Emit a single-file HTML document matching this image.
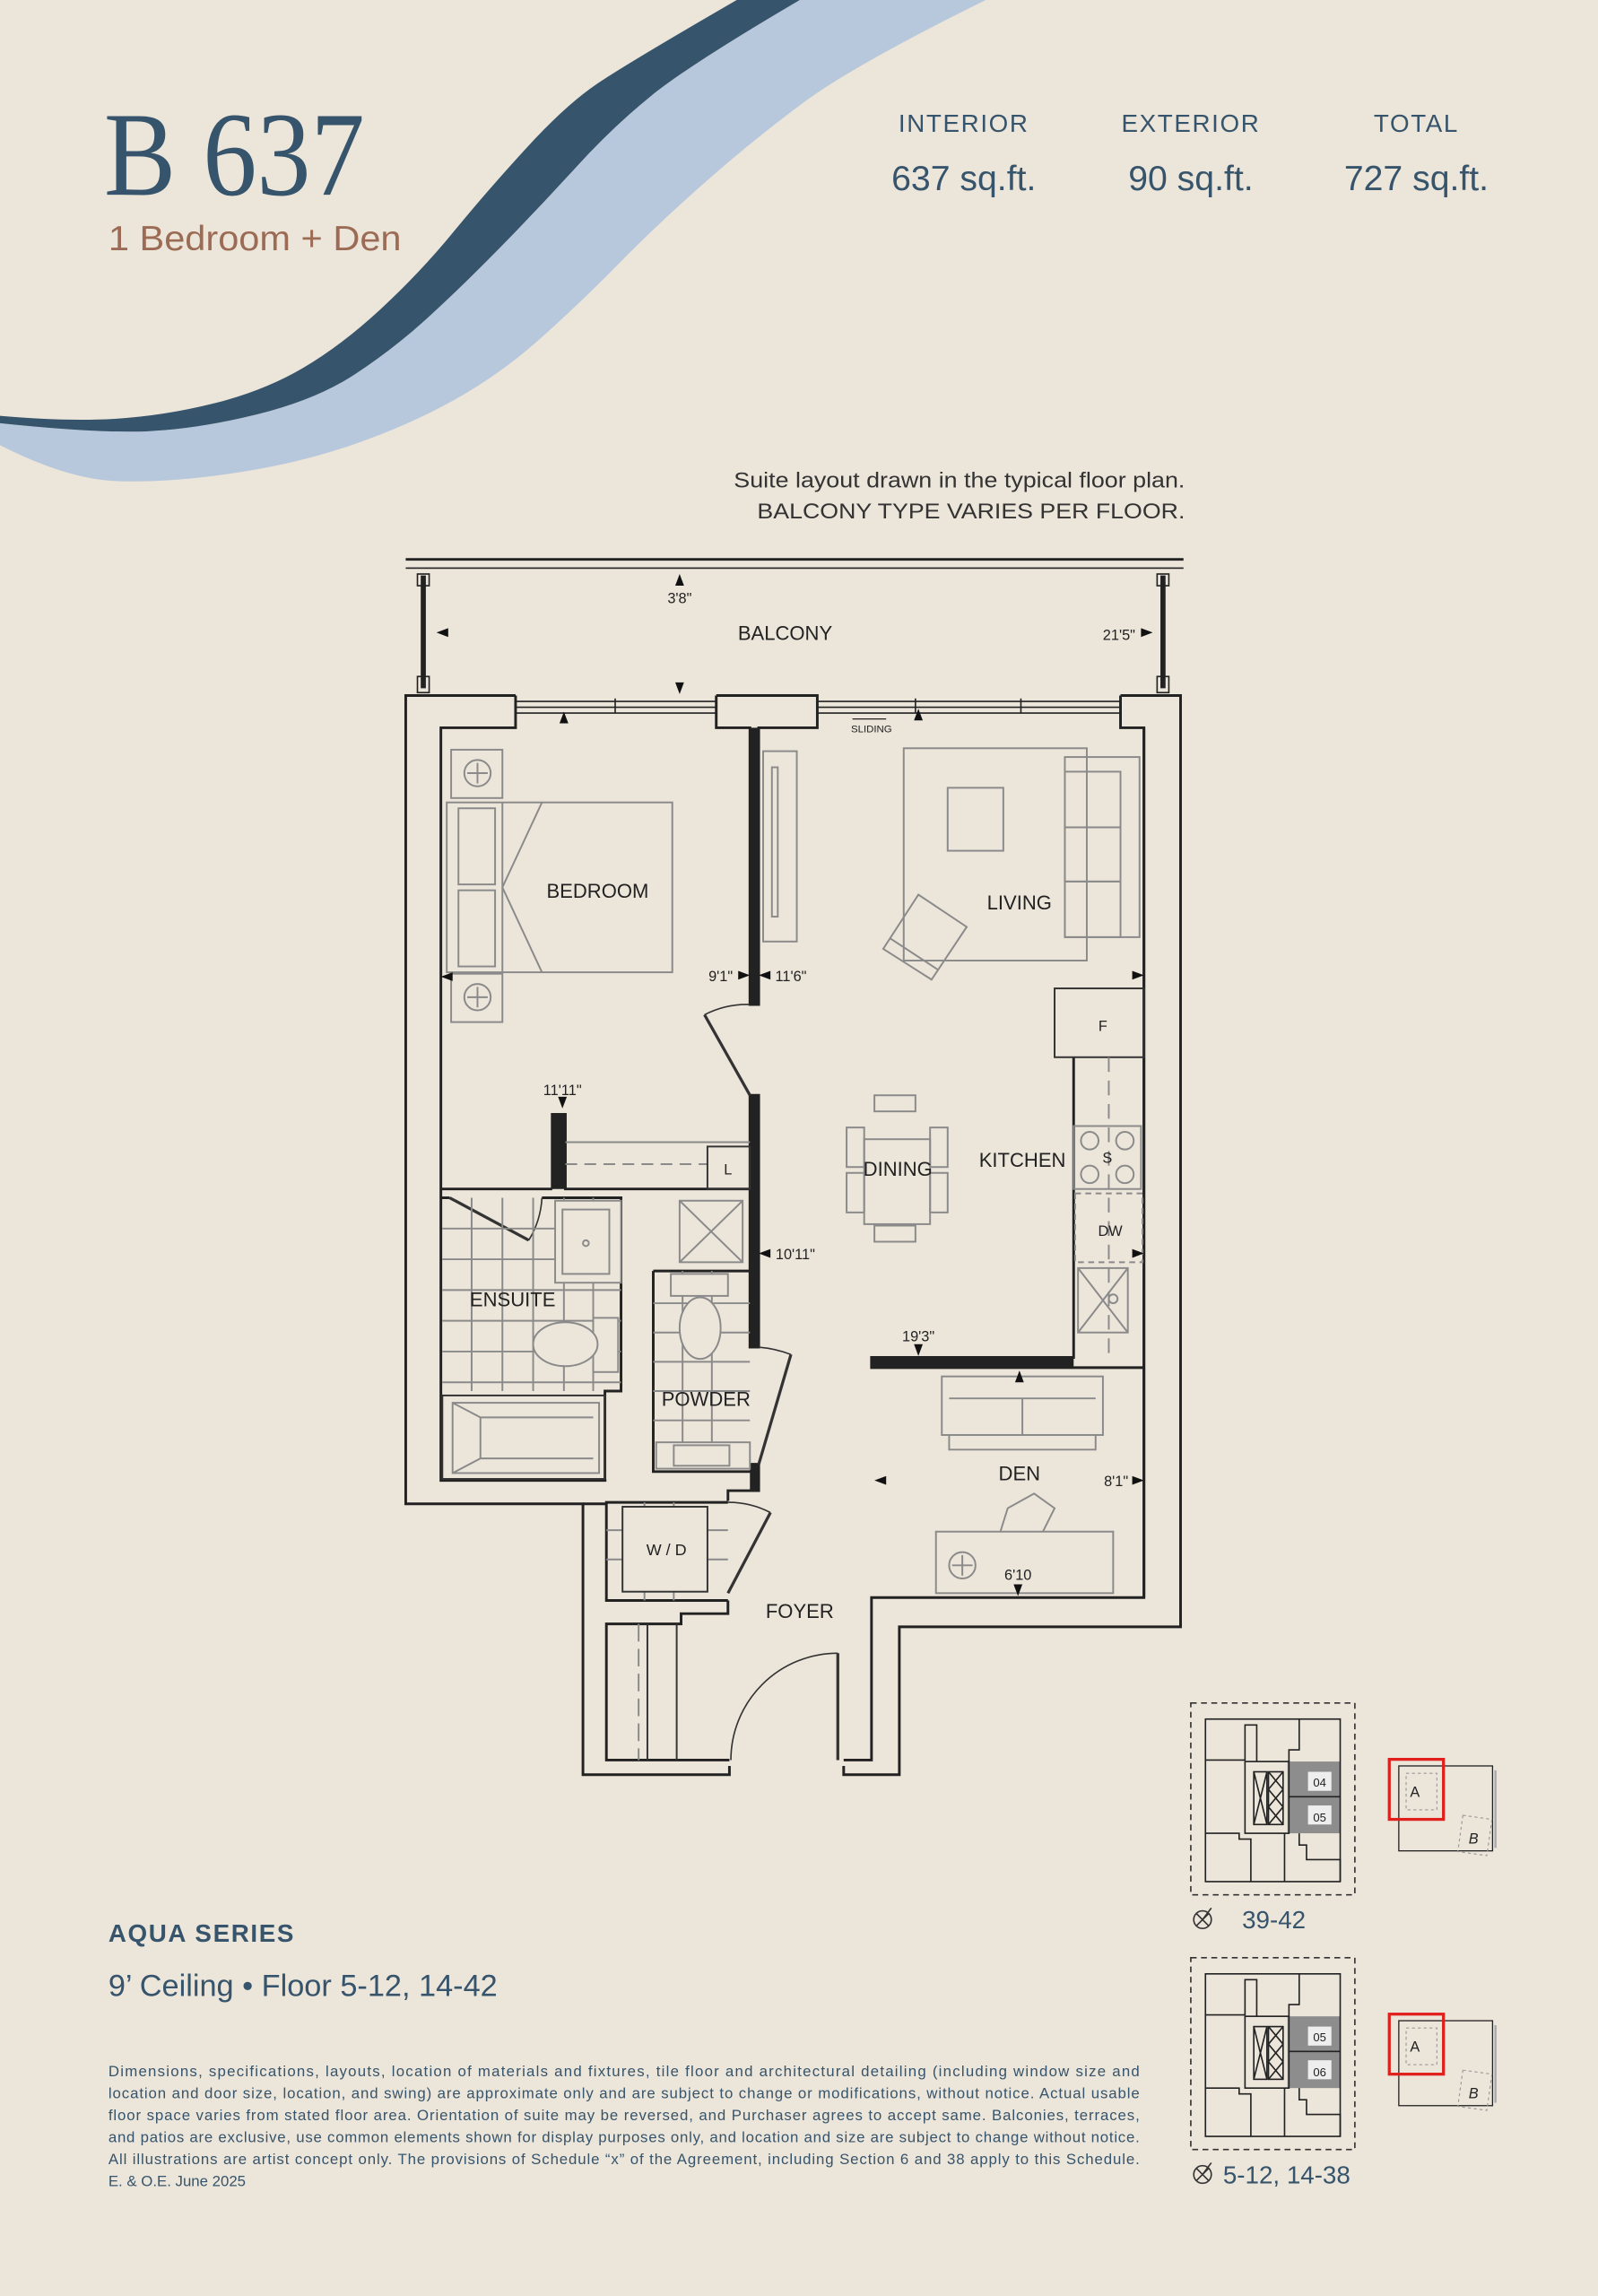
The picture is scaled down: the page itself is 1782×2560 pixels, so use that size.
<!DOCTYPE html>
<html><head><meta charset="utf-8"><style>
html,body{margin:0;padding:0;background:#ECE5DA;}
svg{display:block;}
text{font-family:"Liberation Sans",Arial,sans-serif;}
</style></head><body>
<svg width="1782" height="2560" viewBox="0 0 1091 1568" preserveAspectRatio="none" xmlns="http://www.w3.org/2000/svg">
<rect width="1091" height="1568" fill="#ECE5DA"/>
<!-- waves -->
<path d="M546,0 L673,0 Q584,44 550,69 Q516,94 482.5,123.5 Q449,153 422,180.5 Q395,208 368,232 Q341,256 309.5,273.5 Q278,291 240,304 Q202,317 157,323.5 Q112,330 78.5,328.5 Q45,327 0,304 L0,289 Q67,296 101,294.5 Q135,293 175.5,283 Q216,273 242.5,255.5 Q269,238 291.5,217.5 Q314,197 341,169.5 Q368,142 393,114.5 Q418,87 444.5,65.5 Q471,44 546,0 Z" fill="#B8C8DC"/>
<path d="M503,0 Q427,44 406.5,58 Q386,72 359,101.5 Q332,131 309.5,158.5 Q287,186 260,211 Q233,236 206.5,251.5 Q180,267 146,275.5 Q112,284 78.5,286 Q45,288 0,284 L0,289 Q67,296 101,294.5 Q135,293 175.5,283 Q216,273 242.5,255.5 Q269,238 291.5,217.5 Q314,197 341,169.5 Q368,142 393,114.5 Q418,87 444.5,65.5 Q471,44 546,0 Z" fill="#36546B"/>
<!-- title -->
<text x="71" y="133" style="font-family:'Liberation Serif',serif" font-size="82" fill="#36546B" textLength="178" lengthAdjust="spacingAndGlyphs">B 637</text>
<text x="74" y="171" font-size="24" fill="#9C6B55" textLength="200" lengthAdjust="spacingAndGlyphs">1 Bedroom + Den</text>
<g fill="#36546B" text-anchor="middle">
<text x="658" y="90" font-size="17" letter-spacing="1">INTERIOR</text>
<text x="813" y="90" font-size="17" letter-spacing="1">EXTERIOR</text>
<text x="967" y="90" font-size="17" letter-spacing="1">TOTAL</text>
<text x="658" y="130" font-size="24">637 sq.ft.</text>
<text x="813" y="130" font-size="24">90 sq.ft.</text>
<text x="967" y="130" font-size="24">727 sq.ft.</text>
</g>
<g fill="#333" text-anchor="end" font-size="15">
<text x="809" y="333" textLength="308" lengthAdjust="spacingAndGlyphs">Suite layout drawn in the typical floor plan.</text>
<text x="809" y="354" textLength="292" lengthAdjust="spacingAndGlyphs">BALCONY TYPE VARIES PER FLOOR.</text>
</g>

<!-- FLOOR PLAN -->
<g fill="none" stroke="#222" stroke-width="1.8">
<line x1="277" y1="382" x2="808" y2="382"/>
<line x1="277" y1="388" x2="808" y2="388" stroke-width="1"/>
<line x1="289" y1="393" x2="289" y2="470" stroke-width="3.5"/>
<line x1="794" y1="393" x2="794" y2="470" stroke-width="3.5"/>
<rect x="285" y="392" width="8" height="8" stroke-width="1"/><rect x="285" y="462" width="8" height="11" stroke-width="1"/>
<rect x="790" y="392" width="8" height="8" stroke-width="1"/><rect x="790" y="462" width="8" height="11" stroke-width="1"/>
<polyline points="352,475 277,475 277,1027 398,1027 398,1212 498,1212 498,1206"/>
<polyline points="576,1206 576,1212 614,1212 614,1111 806,1111 806,475 765,475"/>
<polyline points="489,475 558,475 558,497 518,497 518,686 512,686 512,497 489,497 489,475"/>
<polyline points="352,475 352,497 301,497 301,1011 414,1011 414,1011"/>
<polyline points="765,475 765,497 781,497 781,1091 595,1091 595,1202 576,1202"/>
<polyline points="498,1202 414,1202 414,1109 465,1109 465,1102 497,1102 497,1093"/>
<g stroke-width="1">
<line x1="352" y1="479" x2="489" y2="479"/><line x1="352" y1="483" x2="489" y2="483"/><line x1="352" y1="487" x2="489" y2="487"/>
<line x1="420" y1="477" x2="420" y2="487"/>
<line x1="558" y1="479" x2="765" y2="479"/><line x1="558" y1="483" x2="765" y2="483"/><line x1="558" y1="487" x2="765" y2="487"/>
<line x1="625" y1="477" x2="625" y2="487"/><line x1="697" y1="477" x2="697" y2="487"/>
</g>
<polyline points="512,748 518,748 518,920 512,920 512,748"/>
<polyline points="512,1000 518,1000 518,1018 497,1018 497,1025"/>
<polyline points="377,812 377,761 386,761 386,812 512,812"/>
<line x1="301" y1="812" x2="377" y2="812"/>
<polyline points="301,818 307,818"/>
<polyline points="370,818 424,818 424,950 413,950 413,1011"/>
<polyline points="446,868 512,868"/>
<polyline points="446,868 446,1005 515,1005"/>
<polyline points="497,1026 414,1026 414,1093 497,1093"/>
<polyline points="398,1027 414,1027"/>
<polyline points="733,722 733,927 595,927 595,934 781,934"/>
<line x1="781" y1="497" x2="781" y2="1091"/>
</g>
<g fill="#222">
<rect x="512" y="497" width="6" height="189"/>
<rect x="512" y="748" width="6" height="172"/>
<rect x="512" y="1000" width="6" height="18"/>
<rect x="377" y="761" width="9" height="51"/>
<rect x="595" y="927" width="138" height="7"/>
</g>
<!-- doors -->
<g fill="none" stroke="#333" stroke-width="1">
<line x1="512" y1="748" x2="481" y2="693" stroke-width="2"/><path d="M481,693 A63,63 0 0 1 512,686"/>
<line x1="307" y1="818" x2="361" y2="847" stroke-width="2"/><path d="M361,847 A62,62 0 0 0 370,818"/>
<line x1="518" y1="1000" x2="540" y2="925" stroke-width="2"/><path d="M540,925 A80,80 0 0 0 518,920"/>
<line x1="497" y1="1088" x2="526" y2="1033" stroke-width="2"/><path d="M526,1033 A62,62 0 0 0 497,1026"/>
<line x1="572" y1="1202" x2="572" y2="1129" stroke-width="2"/><path d="M572,1129 A73,73 0 0 0 499,1202"/>
</g>
<!-- furniture -->
<g fill="none" stroke="#8a8a8a" stroke-width="1.2">
<rect x="308" y="512" width="35" height="33"/><circle cx="326" cy="528" r="9"/><path d="M326,521v14M319,528h14"/>
<rect x="308" y="665" width="35" height="33"/><circle cx="326" cy="681" r="9"/><path d="M326,674v14M319,681h14"/>
<rect x="305" y="548" width="154" height="116"/>
<rect x="313" y="552" width="25" height="52"/><rect x="313" y="608" width="25" height="52"/>
<path d="M370,548 L343,606 L370,664 M343,548V664"/>
<rect x="521" y="513" width="23" height="130"/><rect x="527" y="524" width="4" height="102"/>
<rect x="617" y="511" width="125" height="145"/>
<rect x="647" y="538" width="38" height="43"/>
<rect x="727" y="517" width="51" height="123"/>
<rect x="727" y="527" width="38" height="38"/><rect x="727" y="565" width="38" height="37"/><rect x="727" y="602" width="38" height="38"/>
<polygon points="603,648 627,611 660,633 636,669"/><path d="M608,641 L640,662"/>
<rect x="720" y="675" width="61" height="47" stroke="#333"/>
<line x1="757" y1="722" x2="757" y2="928" stroke-dasharray="10,6"/>
<rect x="733" y="769" width="46" height="43"/>
<circle cx="744" cy="779" r="6"/><circle cx="768" cy="779" r="6"/><circle cx="744" cy="802" r="6"/><circle cx="768" cy="802" r="6"/>
<rect x="734" y="815" width="46" height="47" stroke-dasharray="4,3"/>
<rect x="736" y="866" width="34" height="44"/><path d="M736,866L770,910M770,866L736,910"/><circle cx="760" cy="887" r="3"/>
<rect x="590" y="778" width="45" height="58"/>
<rect x="597" y="748" width="28" height="11"/><rect x="597" y="837" width="28" height="11"/>
<rect x="578" y="770" width="12" height="27"/><rect x="578" y="801" width="12" height="27"/>
<rect x="635" y="770" width="12" height="27"/><rect x="635" y="801" width="12" height="27"/>
<rect x="643" y="940" width="110" height="40"/><path d="M648,955H748M698,955V980M648,980V990H748V980"/>
<rect x="639" y="1046" width="121" height="42"/><circle cx="657" cy="1069" r="9"/><path d="M657,1062v14M650,1069h14"/>
<path d="M683,1046 L688,1030 L706,1020 L720,1030 L712,1046"/>
<path d="M302,839H424M302,860H424M302,881H424M302,902H424M302,923H424M302,944H424M322,818V950M343,818V950M364,818V950M385,818V950M405,818V950"/>
<rect x="379" y="820" width="45" height="56" fill="#ECE5DA"/><rect x="384" y="826" width="32" height="44"/><circle cx="400" cy="849" r="2"/>
<rect x="405" y="900" width="17" height="37" fill="#ECE5DA"/><ellipse cx="386" cy="918" rx="22" ry="15" fill="#ECE5DA"/>
<rect x="302" y="953" width="111" height="57" stroke="#333"/><rect x="309" y="958" width="100" height="48"/><path d="M309,958L328,968H405M309,1006L328,996H405M328,968V996"/>
<path d="M446,890H512M446,910H512M446,930H512M446,950H512M446,970H512M466,868V985M486,868V985"/>
<rect x="458" y="870" width="39" height="15" fill="#ECE5DA"/><ellipse cx="478" cy="907" rx="14" ry="21" fill="#ECE5DA"/>
<rect x="448" y="985" width="64" height="18" fill="#ECE5DA"/><rect x="460" y="987" width="38" height="14"/>
<rect x="464" y="820" width="43" height="42"/><path d="M464,820L507,862M507,820L464,862"/>
<line x1="386" y1="780" x2="512" y2="780"/><line x1="386" y1="795" x2="483" y2="795" stroke-dasharray="8,5"/>
<rect x="483" y="783" width="29" height="29" stroke="#333"/>
<path d="M414,1045H497M414,1065H497M440,1026V1093M460,1026V1093"/>
<rect x="425" y="1029" width="58" height="58" fill="#ECE5DA" stroke="#333"/>
<line x1="436" y1="1109" x2="436" y2="1202" stroke-dasharray="12,5"/>
<line x1="442" y1="1109" x2="442" y2="1202" stroke="#333"/>
<line x1="462" y1="1109" x2="462" y2="1202" stroke="#333"/>
</g>
<!-- arrows -->
<g fill="#111">
<path d="M464,392l-3,8h6z"/><path d="M461,466l3,8l3,-8z"/><path d="M385,486l-3,8h6z"/>
<path d="M298,432l8,-3v6z"/><path d="M787,432l-8,-3v6z"/>
<path d="M627,484l-3,8h6z"/><path d="M301,667l8,-3v6z"/><path d="M781,666l-8,-3v6z"/>
<path d="M512,666l-8,-3v6z"/><path d="M518,666l8,-3v6z"/><path d="M384,757l-3,-8h6z"/>
<path d="M518,856l8,-3v6z"/><path d="M627,926l-3,-8h6z"/><path d="M696,936l-3,8h6z"/>
<path d="M597,1011l8,-3v6z"/><path d="M781,1011l-8,-3v6z"/><path d="M695,1090l-3,-8h6z"/>
<path d="M781,856l-8,-3v6z"/>
</g>
<g fill="#222" font-size="13.5" text-anchor="middle">
<text x="536" y="437">BALCONY</text>
<text x="408" y="613">BEDROOM</text>
<text x="696" y="621">LIVING</text>
<text x="613" y="803">DINING</text>
<text x="698" y="797">KITCHEN</text>
<text x="350" y="892">ENSUITE</text>
<text x="482" y="960">POWDER</text>
<text x="696" y="1011">DEN</text>
<text x="546" y="1105">FOYER</text>
<text x="455" y="1062" font-size="11">W / D</text>
<text x="753" y="704" font-size="10">F</text>
<text x="756" y="794" font-size="10">S</text>
<text x="758" y="844" font-size="10">DW</text>
<text x="497" y="802" font-size="10">L</text>
</g>
<g fill="#222" font-size="10" text-anchor="middle">
<text x="464" y="412">3'8"</text><text x="764" y="437">21'5"</text>
<text x="492" y="670">9'1"</text><text x="540" y="670">11'6"</text>
<text x="384" y="748">11'11"</text><text x="543" y="860">10'11"</text>
<text x="627" y="916">19'3"</text><text x="762" y="1015">8'1"</text><text x="695" y="1079">6'10</text>
<text x="595" y="500" font-size="7">SLIDING</text>
</g>
<path d="M582,491H605" stroke="#222" stroke-width="0.8"/>

<text x="74" y="1326" font-size="17" font-weight="bold" fill="#36546B" letter-spacing="1">AQUA SERIES</text>
<text x="74" y="1363" font-size="21" fill="#36546B">9’ Ceiling • Floor 5-12, 14-42</text>
<g fill="#36546B" font-size="10.3">
<text x="74" y="1418" textLength="704" lengthAdjust="spacing">Dimensions, specifications, layouts, location of materials and fixtures, tile floor and architectural detailing (including window size and</text>
<text x="74" y="1433" textLength="704" lengthAdjust="spacing">location and door size, location, and swing) are approximate only and are subject to change or modifications, without notice. Actual usable</text>
<text x="74" y="1448" textLength="704" lengthAdjust="spacing">floor space varies from stated floor area. Orientation of suite may be reversed, and Purchaser agrees to accept same. Balconies, terraces,</text>
<text x="74" y="1463" textLength="704" lengthAdjust="spacing">and patios are exclusive, use common elements shown for display purposes only, and location and size are subject to change without notice.</text>
<text x="74" y="1478" textLength="704" lengthAdjust="spacing">All illustrations are artist concept only. The provisions of Schedule “x” of the Agreement, including Section 6 and 38 apply to this Schedule.</text>
<text x="74" y="1493">E. &amp; O.E. June 2025</text>
</g>

<defs>
<g id="kp">
<rect x="813" y="1163" width="112" height="131" fill="none" stroke="#333" stroke-width="1" stroke-dasharray="4,3"/>
<rect x="879" y="1203" width="36" height="49" fill="#8d8d8d"/>
<g fill="none" stroke="#222" stroke-width="1">
<rect x="823" y="1174" width="92" height="111"/>
<path d="M823,1202H850V1178H858V1203M880,1203V1195H887V1174M823,1252H846V1256H854V1285M877,1252V1285M887,1252V1260H892V1270H915V1285M915,1227H880"/>
<rect x="850" y="1203" width="30" height="49"/>
<rect x="856" y="1210" width="9" height="36"/><path d="M856,1210L865,1246M865,1210L856,1246"/>
<rect x="866" y="1210" width="10" height="36"/><path d="M866,1210L876,1222M876,1210L866,1222M866,1222L876,1234M876,1222L866,1234M866,1234L876,1246M876,1234L866,1246"/>
</g>
<rect x="893" y="1210" width="16" height="13" fill="#eee"/>
<rect x="893" y="1233" width="16" height="13" fill="#eee"/>
<rect x="955" y="1206" width="64" height="58" fill="none" stroke="#222" stroke-width="0.8"/>
<rect x="960" y="1211" width="21" height="25" fill="none" stroke="#999" stroke-width="0.7" stroke-dasharray="2,2"/>
<rect x="997" y="1241" width="20" height="25" fill="none" stroke="#999" stroke-width="0.7" stroke-dasharray="2,2" transform="rotate(8 1007 1253)"/>
<line x1="1021" y1="1209" x2="1021" y2="1262" stroke="#aaa" stroke-width="1.5"/>
<rect x="948.5" y="1201.5" width="37" height="41" fill="none" stroke="#E0201C" stroke-width="2"/>
<text x="966" y="1227" font-size="10" text-anchor="middle" fill="#222">A</text>
<text x="1006" y="1259" font-size="10" text-anchor="middle" fill="#222" font-style="italic">B</text>
</g>
</defs>
<use href="#kp"/>
<use href="#kp" y="174"/>
<g font-size="8" fill="#222" text-anchor="middle">
<text x="901" y="1220">04</text><text x="901" y="1244">05</text>
<text x="901" y="1394">05</text><text x="901" y="1418">06</text>
</g>
<g fill="none" stroke="#333" stroke-width="1">
<circle cx="821" cy="1311" r="6"/><path d="M817,1307l8,8M825,1307l-8,8M821,1311l6,-8"/>
<circle cx="821" cy="1485" r="6"/><path d="M817,1481l8,8M825,1481l-8,8M821,1485l6,-8"/>
</g>
<text x="848" y="1317" font-size="17" fill="#36546B">39-42</text>
<text x="835" y="1491" font-size="17" fill="#36546B">5-12, 14-38</text>
</svg>
</body></html>
